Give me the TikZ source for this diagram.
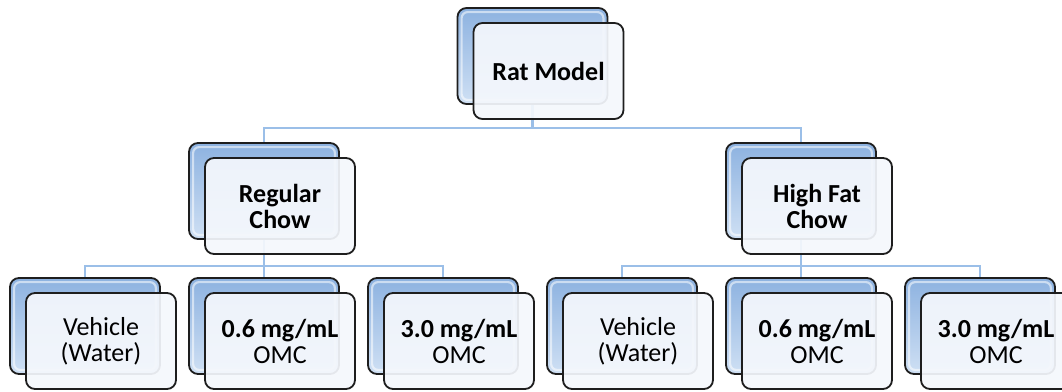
\documentclass[tikz,border=0pt]{standalone}
\usepackage{fontspec}
\setmainfont{Carlito}
\usetikzlibrary{backgrounds,calc}
\definecolor{linec}{HTML}{9BBFE8}
\definecolor{backtop}{HTML}{8DB2E0}
\definecolor{backbot}{HTML}{CFE0F4}
\definecolor{frontf}{HTML}{F4F7FC}
\definecolor{edge}{HTML}{1E1E1E}
\tikzset{
  backbox/.style={draw=edge, line width=1.8pt, rounded corners=9pt,
    top color=backtop, bottom color=backbot, minimum width=150pt, minimum height=96pt, inner sep=0pt},
  frontbox/.style={draw=edge, line width=1.8pt, rounded corners=9pt,
    fill=frontf, fill opacity=0.93, text opacity=1, minimum width=150pt, minimum height=96pt,
    inner sep=0pt, align=center, font=\fontsize{26pt}{26pt}\selectfont, text=black},
  conn/.style={draw=linec, line width=2.4pt},
  shine/.style={draw=white, opacity=0.55, line width=2.2pt, rounded corners=6pt}
}
\newcommand\boxpair[4]{% name, x, y (back centre), text
  \node[backbox] (#1b) at (#2,#3) {};
  \draw[shine] ($(#1b.north west)+(5,5)$) rectangle ($(#1b.south east)+(-5,-5)$);
  \node[frontbox] (#1) at ($(#1b.center)+(16,15)$) {#4};
}
\begin{document}
\begin{tikzpicture}[x=1pt,y=-1pt]
\useasboundingbox (0,0) rectangle (1062,391);
\boxpair{rat}{532.5}{56}{\textbf{Rat Model}}
\boxpair{reg}{264}{191}{\textbf{Regular}\\\textbf{Chow}}
\boxpair{hfc}{801}{191}{\textbf{High Fat}\\\textbf{Chow}}
\boxpair{ra}{85}{326}{Vehicle\\(Water)}
\boxpair{rb}{264}{326}{\textbf{0.6 mg/mL}\\OMC}
\boxpair{rc}{443}{326}{\textbf{3.0 mg/mL}\\OMC}
\boxpair{ha}{622}{326}{Vehicle\\(Water)}
\boxpair{hb}{801}{326}{\textbf{0.6 mg/mL}\\OMC}
\boxpair{hc}{980}{326}{\textbf{3.0 mg/mL}\\OMC}
\coordinate (bus1) at (0,128);
\coordinate (bus2) at (0,266);
\begin{pgfonlayer}{background}
  \draw[conn] (ratb.center) -- (ratb.center |- bus1) -| (regb.north);
  \draw[conn] (ratb.center |- bus1) -| (hfcb.north);
  \draw[conn] (regb.center) -- (regb.center |- bus2) -| (rab.north);
  \draw[conn] (regb.center |- bus2) -- (rbb.north);
  \draw[conn] (regb.center |- bus2) -| (rcb.north);
  \draw[conn] (hfcb.center) -- (hfcb.center |- bus2) -| (hab.north);
  \draw[conn] (hfcb.center |- bus2) -- (hbb.north);
  \draw[conn] (hfcb.center |- bus2) -| (hcb.north);
\end{pgfonlayer}
\end{tikzpicture}
\end{document}
